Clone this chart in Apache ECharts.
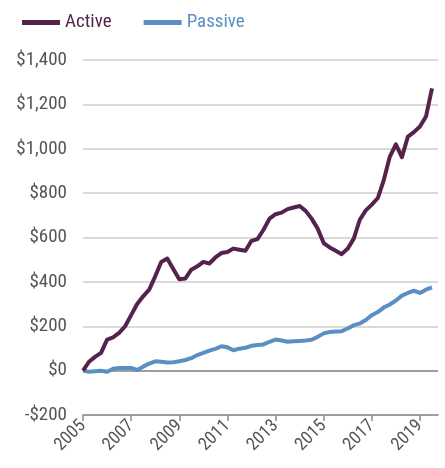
<!DOCTYPE html>
<html>
<head>
<meta charset="utf-8">
<script src="https://cdn.jsdelivr.net/npm/echarts@6/dist/echarts.min.js"></script>
<style>
  html, body { margin: 0; padding: 0; background: #ffffff; }
  #chart { width: 445px; height: 468px; }
</style>
</head>
<body>
<div id="chart"></div>
<script>
// Quarterly observations, 2005 Q1 .. 2019 Q3
const startYear = 2005;
const activeValues = [
  0, 40, 62, 80, 140, 150, 170, 200, 250, 300,
  335, 365, 425, 490, 505, 458, 412, 415, 455, 470,
  490, 483, 510, 530, 535, 550, 545, 540, 585, 593,
  635, 685, 705, 712, 728, 735, 742, 720, 685, 640,
  575, 555, 540, 525, 550, 595, 680, 722, 748, 778,
  860, 965, 1020, 962, 1055, 1075, 1100, 1145, 1272
];
const passiveValues = [
  0, -5, -3, -1, -5, 8, 12, 12, 12, 3,
  18, 32, 42, 40, 37, 38, 42, 48, 56, 70,
  80, 90, 98, 110, 105, 92, 99, 103, 112, 115,
  118, 130, 140, 136, 130, 132, 134, 136, 139, 152,
  168, 174, 176, 178, 190, 205, 212, 228, 250, 264,
  285, 298, 316, 338, 350, 360, 350, 365, 375
];
const yearTicks = [2005, 2007, 2009, 2011, 2013, 2015, 2017, 2019];
const seriesNames = ['Active', 'Passive'];
const seriesColors = ['#55224b', '#5b8fc4'];

function toPairs(vals) {
  return vals.map((v, i) => [startYear + i * 0.25, v]);
}
function money(v) {
  const s = Math.abs(v).toLocaleString('en-US');
  return (v < 0 ? '-$' : '$') + s;
}

const font = '"Liberation Sans Narrow", "Roboto Condensed", "DejaVu Sans Condensed", sans-serif';
const chart = echarts.init(document.getElementById('chart'), null, { renderer: 'canvas' });
chart.setOption({
  animation: false,
  backgroundColor: '#ffffff',
  legend: {
    left: 17,
    top: 8,
    itemWidth: 38,
    itemHeight: 5,
    itemGap: 32,
    icon: 'rect',
    textStyle: { fontFamily: font, fontSize: 19 },
    data: [
      { name: seriesNames[0], textStyle: { color: seriesColors[0] } },
      { name: seriesNames[1], textStyle: { color: seriesColors[1] } }
    ]
  },
  grid: { left: 83, right: 7, top: 60, bottom: 53, containLabel: false },
  xAxis: {
    type: 'value',
    min: 2005,
    max: 2019.75,
    splitLine: { show: false },
    axisLine: { show: true, onZero: false, lineStyle: { color: '#8a8a8a', width: 1.5 } },
    axisTick: { show: true, customValues: yearTicks, length: 6, lineStyle: { color: '#8a8a8a', width: 1.5 } },
    axisLabel: {
      customValues: yearTicks,
      rotate: 45,
      margin: 8,
      color: '#555555',
      fontFamily: font,
      fontSize: 18,
      formatter: v => String(v)
    }
  },
  yAxis: {
    type: 'value',
    min: -200,
    max: 1400,
    interval: 200,
    axisLine: { show: false },
    axisTick: { show: false },
    splitLine: { show: true, lineStyle: { color: '#cccccc', width: 1.5 } },
    axisLabel: {
      margin: 16,
      color: '#555555',
      fontFamily: font,
      fontSize: 19,
      formatter: money
    }
  },
  series: [
    {
      name: seriesNames[0],
      type: 'line',
      data: toPairs(activeValues),
      showSymbol: false,
      symbol: 'none',
      lineStyle: { color: seriesColors[0], width: 4, join: 'round' },
      itemStyle: { color: seriesColors[0] },
      z: 3,
      markLine: {
        silent: true,
        symbol: 'none',
        label: { show: false },
        lineStyle: { color: '#8a8a8a', width: 1.5, type: 'solid' },
        data: [{ yAxis: 0 }],
        z: 1
      }
    },
    {
      name: seriesNames[1],
      type: 'line',
      data: toPairs(passiveValues),
      showSymbol: false,
      symbol: 'none',
      lineStyle: { color: seriesColors[1], width: 4, join: 'round' },
      itemStyle: { color: seriesColors[1] },
      z: 2
    }
  ]
});
</script>
</body>
</html>
